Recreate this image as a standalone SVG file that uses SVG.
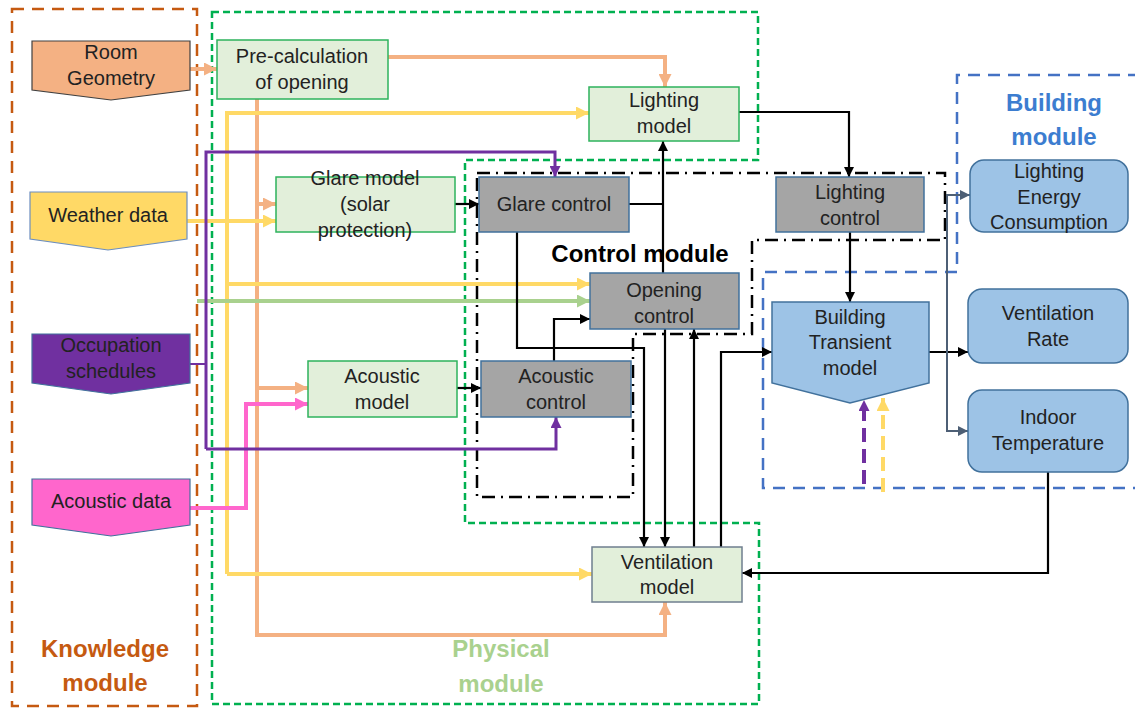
<svg xmlns="http://www.w3.org/2000/svg" width="1135" height="708" viewBox="0 0 1135 708">
<style>
text{font-family:"Liberation Sans",Arial,sans-serif;font-size:20px;fill:#222;text-anchor:middle}
.mod{font-size:24px;font-weight:bold}
.gm{fill:#E2EFDA;stroke:#2EB35C;stroke-width:1.5}
.gc{fill:#A5A5A5;stroke:#41719C;stroke-width:1.5}
.bm{fill:#9DC3E6;stroke:#41719C;stroke-width:1.5}
.c{fill:none;stroke-linejoin:miter}
.k{stroke:#000;stroke-width:2.2;marker-end:url(#aK)}
.kn{stroke:#000;stroke-width:2.2}
.o{stroke:#F4B183;stroke-width:4}
.y{stroke:#FFD966;stroke-width:4}
.p{stroke:#7030A0;stroke-width:3}
.s{stroke:#4D5F75;stroke-width:2;marker-end:url(#aS)}
</style>
<defs>
<marker id="aK" markerUnits="userSpaceOnUse" markerWidth="10" markerHeight="10" viewBox="0 0 10 10" refX="10" refY="5" orient="auto"><path d="M0,0 L10,5 L0,10 z" fill="#000"/></marker>
<marker id="aS" markerUnits="userSpaceOnUse" markerWidth="10" markerHeight="10" viewBox="0 0 10 10" refX="10" refY="5" orient="auto"><path d="M0,0 L10,5 L0,10 z" fill="#4D5F75"/></marker>
<marker id="aO" markerUnits="userSpaceOnUse" markerWidth="13" markerHeight="13" viewBox="0 0 12 12" refX="12" refY="6" orient="auto"><path d="M0,0 L12,6 L0,12 z" fill="#F4B183"/></marker>
<marker id="aY" markerUnits="userSpaceOnUse" markerWidth="13" markerHeight="13" viewBox="0 0 12 12" refX="12" refY="6" orient="auto"><path d="M0,0 L12,6 L0,12 z" fill="#FFD966"/></marker>
<marker id="aG" markerUnits="userSpaceOnUse" markerWidth="13" markerHeight="13" viewBox="0 0 12 12" refX="12" refY="6" orient="auto"><path d="M0,0 L12,6 L0,12 z" fill="#A9D18E"/></marker>
<marker id="aPk" markerUnits="userSpaceOnUse" markerWidth="13" markerHeight="13" viewBox="0 0 12 12" refX="12" refY="6" orient="auto"><path d="M0,0 L12,6 L0,12 z" fill="#FF66CC"/></marker>
<marker id="aP" markerUnits="userSpaceOnUse" markerWidth="11" markerHeight="11" viewBox="0 0 10 10" refX="10" refY="5" orient="auto"><path d="M0,0 L10,5 L0,10 z" fill="#7030A0"/></marker>
</defs>
<rect width="1135" height="708" fill="#fff"/>

<g id="modules" fill="none">
<rect x="12" y="9" width="185" height="697" stroke="#C55A11" stroke-width="2.5" stroke-dasharray="12 8"/>
<path d="M212,12 H758 V160 H465 V523 H759 V704 H212 Z" stroke="#00B050" stroke-width="2.5" stroke-dasharray="7 4"/>
<path d="M477,173 H945 V240 H752 V334 H633 V497 H477 Z" stroke="#000" stroke-width="2.5" stroke-dasharray="13 6 2 6"/>
<path d="M1140,75 H957 V272 H763 V488 H1140" stroke="#4472C4" stroke-width="2.5" stroke-dasharray="12 8"/>
</g>

<g id="connectors" class="c">
<path class="c o" d="M190,69 H217" marker-end="url(#aO)"/>
<path class="c o" d="M388,57 H665 V87" marker-end="url(#aO)"/>
<path class="c o" d="M257,99 V635 H665 V602" marker-end="url(#aO)"/>
<path class="c o" d="M257,204 H276" marker-end="url(#aO)"/>
<path class="c o" d="M257,388 H308" marker-end="url(#aO)"/>
<path class="c y" d="M187,221 H276" marker-end="url(#aY)"/>
<path class="c y" d="M227,574 V113 H589" marker-end="url(#aY)"/>
<path class="c y" d="M227,284 H590" marker-end="url(#aY)"/>
<path class="c y" d="M227,574 H592" marker-end="url(#aY)"/>
<path class="c" d="M197,301 H590" stroke="#A9D18E" stroke-width="4" marker-end="url(#aG)"/>
<path class="c" d="M190,508 H246 V404 H308" stroke="#FF66CC" stroke-width="4" marker-end="url(#aPk)"/>
<path class="c" d="M190,364 H206" stroke="#7030A0" stroke-width="2"/>
<path class="c p" d="M206,449 V152 H555 V177" marker-end="url(#aP)"/>
<path class="c p" d="M206,449 H556 V417" marker-end="url(#aP)"/>
<path class="c k" d="M455,204 H479"/>
<path class="c k" d="M457,388 H481"/>
<path class="c kn" d="M629,204 H663"/>
<path class="c k" d="M663,273 V141"/>
<path class="c k" d="M739,112 H849 V177"/>
<path class="c k" d="M850,232 V302"/>
<path class="c k" d="M517,232 V348 H644 V547"/>
<path class="c k" d="M554,361 V319 H590"/>
<path class="c k" d="M665,329 V547"/>
<path class="c k" d="M694,547 V329"/>
<path class="c k" d="M721,558 V352 H772"/>
<path class="c k" d="M929,352 H968"/>
<path class="c k" d="M1048,472 V573 H742"/>
<path class="c s" d="M947,313 V195 H970"/>
<path class="c s" d="M947,313 V431 H968"/>
<path class="c" d="M864,484 V400" stroke="#7030A0" stroke-width="4" stroke-dasharray="14 7" marker-end="url(#aP)"/>
<path class="c" d="M883,492 V398" stroke="#FFD966" stroke-width="4" stroke-dasharray="14 7" marker-end="url(#aY)"/>
</g>

<g id="room-geometry">
<polygon points="32,41 190,41 190,90 111,100 32,90" fill="#F4B183" stroke="#404040" stroke-width="1.2"/>
<text x="111" y="59">Room</text><text x="111" y="85">Geometry</text>
</g>
<g id="weather-data">
<polygon points="30,192 187,192 187,239 108,250 30,239" fill="#FFD966" stroke="#6C8EBF" stroke-width="1.2"/>
<text x="108" y="222">Weather data</text>
</g>
<g id="occupation-schedules">
<polygon points="32,334 190,334 190,383 111,394 32,383" fill="#7030A0" stroke="#41719C" stroke-width="1.2"/>
<text x="111" y="352">Occupation</text><text x="111" y="378">schedules</text>
</g>
<g id="acoustic-data">
<polygon points="32,479 190,479 190,525 111,536 32,525" fill="#FF66CC" stroke="#41719C" stroke-width="1.2"/>
<text x="111" y="508">Acoustic data</text>
</g>

<g id="pre-calculation">
<rect class="gm" x="217" y="40" width="171" height="59"/>
<text x="302" y="63">Pre-calculation</text><text x="302" y="89">of opening</text>
</g>
<g id="lighting-model">
<rect class="gm" x="589" y="87" width="150" height="54"/>
<text x="664" y="107">Lighting</text><text x="664" y="133">model</text>
</g>
<g id="glare-model">
<rect class="gm" x="276" y="177" width="179" height="55"/>
<text x="365" y="185">Glare model</text><text x="365" y="211">(solar</text><text x="365" y="237">protection)</text>
</g>
<g id="acoustic-model">
<rect class="gm" x="308" y="361" width="149" height="56"/>
<text x="382" y="383">Acoustic</text><text x="382" y="409">model</text>
</g>
<g id="ventilation-model">
<rect x="592" y="547" width="150" height="55" fill="#E2EFDA" stroke="#6F7F8F" stroke-width="1.5"/>
<text x="667" y="569">Ventilation</text><text x="667" y="594">model</text>
</g>

<g id="glare-control">
<rect class="gc" x="479" y="177" width="150" height="55"/>
<text x="554" y="211">Glare control</text>
</g>
<g id="lighting-control">
<rect class="gc" x="776" y="177" width="148" height="55"/>
<text x="850" y="199">Lighting</text><text x="850" y="225">control</text>
</g>
<g id="opening-control">
<rect class="gc" x="590" y="273" width="149" height="56"/>
<text x="664" y="297">Opening</text><text x="664" y="323">control</text>
</g>
<g id="acoustic-control">
<rect class="gc" x="481" y="361" width="150" height="56"/>
<text x="556" y="383">Acoustic</text><text x="556" y="409">control</text>
</g>

<g id="building-transient-model">
<polygon class="bm" points="772,302 929,302 929,383 850,403 772,383"/>
<text x="850" y="324">Building</text><text x="850" y="349">Transient</text><text x="850" y="375">model</text>
</g>
<g id="lighting-energy-consumption">
<rect class="bm" x="970" y="160" width="158" height="72" rx="14"/>
<text x="1049" y="178">Lighting</text><text x="1049" y="204">Energy</text><text x="1049" y="229">Consumption</text>
</g>
<g id="ventilation-rate">
<rect class="bm" x="968" y="289" width="160" height="74" rx="14"/>
<text x="1048" y="320">Ventilation</text><text x="1048" y="346">Rate</text>
</g>
<g id="indoor-temperature">
<rect class="bm" x="968" y="390" width="160" height="82" rx="14"/>
<text x="1048" y="424">Indoor</text><text x="1048" y="450">Temperature</text>
</g>

<g id="labels">
<text class="mod" x="640" y="262" style="fill:#000">Control module</text>
<text class="mod" x="1054" y="111" style="fill:#3C7DD0">Building</text>
<text class="mod" x="1054" y="145" style="fill:#3C7DD0">module</text>
<text class="mod" x="105" y="657" style="fill:#C55A11">Knowledge</text>
<text class="mod" x="105" y="691" style="fill:#C55A11">module</text>
<text class="mod" x="501" y="657" style="fill:#A9D18E">Physical</text>
<text class="mod" x="501" y="692" style="fill:#A9D18E">module</text>
</g>
</svg>
